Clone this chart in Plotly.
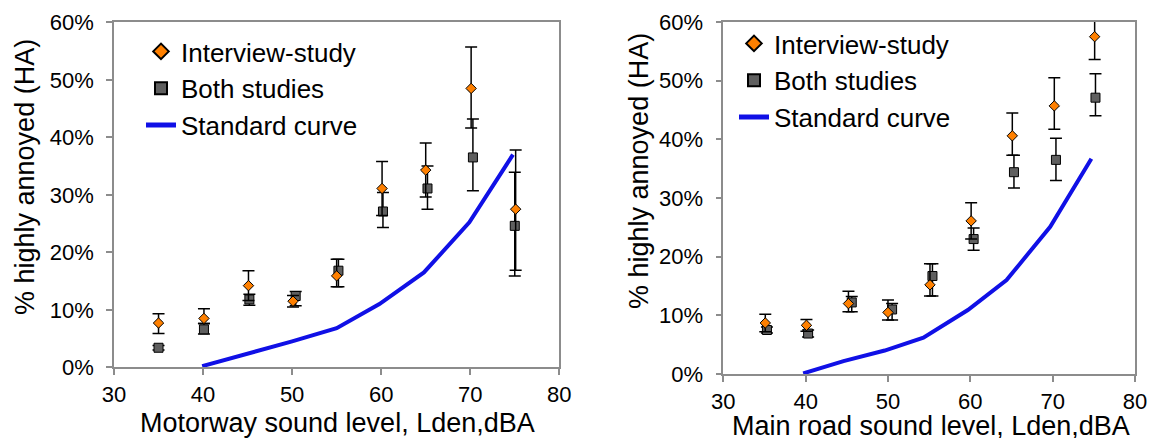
import plotly.graph_objects as go

# ---------------- data ----------------
# Left panel: Motorway
mw_int_x = [35.0, 40.1, 45.1, 50.1, 55.0, 60.1, 65.0, 70.1, 75.1]
mw_int_y = [7.7, 8.5, 14.2, 11.5, 15.9, 31.1, 34.3, 48.5, 27.5]
mw_int_up = [1.6, 1.7, 2.6, 1.0, 2.9, 4.7, 4.7, 7.2, 10.3]
mw_int_dn = [1.8, 0.9, 2.6, 1.0, 1.9, 4.7, 4.7, 6.9, 10.6]

mw_both_x = [35.0, 40.1, 45.2, 50.4, 55.2, 60.2, 65.2, 70.3, 75.0]
mw_both_y = [3.4, 6.6, 11.8, 12.4, 16.8, 27.1, 31.1, 36.5, 24.6]
mw_both_up = [0.4, 1.0, 0.9, 0.8, 2.0, 3.3, 3.9, 6.7, 9.3]
mw_both_dn = [0.4, 0.8, 1.0, 1.7, 2.8, 2.8, 3.6, 5.8, 8.7]

mw_std_x = [39.9, 44.9, 50.0, 55.0, 59.8, 64.8, 69.9, 74.8]
mw_std_y = [0.2, 2.3, 4.5, 6.8, 11.0, 16.5, 25.2, 37.0]

# Right panel: Main road
mr_int_x = [35.1, 40.1, 45.2, 50.0, 55.1, 60.1, 65.1, 70.2, 75.1]
mr_int_y = [8.7, 8.3, 12.0, 10.5, 15.2, 26.1, 40.6, 45.7, 57.5]
mr_int_up = [1.5, 1.0, 2.1, 2.1, 3.6, 3.1, 3.9, 4.8, 4.1]
mr_int_dn = [1.5, 1.0, 1.4, 1.3, 1.9, 3.1, 3.3, 4.0, 3.9]

mr_both_x = [35.3, 40.3, 45.6, 50.5, 55.4, 60.4, 65.3, 70.4, 75.2]
mr_both_y = [7.5, 6.9, 12.2, 11.0, 16.7, 23.0, 34.4, 36.5, 47.1]
mr_both_up = [0.5, 0.6, 1.0, 1.0, 2.1, 1.9, 2.9, 3.7, 4.1]
mr_both_dn = [0.5, 0.6, 1.6, 1.8, 3.4, 1.9, 2.7, 3.5, 3.1]

mr_std_x = [39.7, 44.6, 49.6, 54.3, 59.7, 64.4, 69.7, 74.7]
mr_std_y = [0.1, 2.2, 4.0, 6.2, 10.9, 16.0, 25.1, 36.7]

x_ticks = [30, 40, 50, 60, 70, 80]
y_ticks = [0, 10, 20, 30, 40, 50, 60]
y_tick_text = [f"{v}%" for v in y_ticks]

names = ["Interview-study", "Both studies", "Standard curve"]
x_titles = ["Motorway sound level, Lden,dBA", "Main road sound level, Lden,dBA"]
y_title = "% highly annoyed (HA)"

# ---------------- style ----------------
FONT = "Liberation Sans, Arial, sans-serif"
ORANGE = "#FF8000"
GREY = "#5F5F5F"
BLUE = "#1010E6"
AXC = "#8C8C8C"
W, H = 1154, 438

fig = go.Figure()

panels = [
    dict(xa="x", ya="y", leg="legend",
         ix=mw_int_x, iy=mw_int_y, iu=mw_int_up, idn=mw_int_dn,
         bx=mw_both_x, by=mw_both_y, bu=mw_both_up, bdn=mw_both_dn,
         sx=mw_std_x, sy=mw_std_y),
    dict(xa="x2", ya="y2", leg="legend2",
         ix=mr_int_x, iy=mr_int_y, iu=mr_int_up, idn=mr_int_dn,
         bx=mr_both_x, by=mr_both_y, bu=mr_both_up, bdn=mr_both_dn,
         sx=mr_std_x, sy=mr_std_y),
]

for k, p in enumerate(panels):
    fig.add_trace(go.Scatter(
        x=p["sx"], y=p["sy"], mode="lines", name=names[2],
        line=dict(color=BLUE, width=4), xaxis=p["xa"], yaxis=p["ya"],
        legend=p["leg"], legendgroup=f"s{k}", legendrank=3))
    fig.add_trace(go.Scatter(
        x=p["bx"], y=p["by"], mode="markers", name=names[1],
        marker=dict(symbol="square", size=9, color=GREY,
                    line=dict(color="black", width=1)),
        error_y=dict(type="data", array=p["bu"], arrayminus=p["bdn"],
                     color="black", thickness=1.5, width=6),
        cliponaxis=False, xaxis=p["xa"], yaxis=p["ya"],
        legend=p["leg"], legendgroup=f"b{k}", legendrank=2))
    fig.add_trace(go.Scatter(
        x=p["ix"], y=p["iy"], mode="markers", name=names[0],
        marker=dict(symbol="diamond", size=8, color=ORANGE,
                    line=dict(color="black", width=1)),
        error_y=dict(type="data", array=p["iu"], arrayminus=p["idn"],
                     color="black", thickness=1.5, width=6),
        cliponaxis=False, xaxis=p["xa"], yaxis=p["ya"],
        legend=p["leg"], legendgroup=f"i{k}", legendrank=1))

def xaxis(dom):
    return dict(domain=dom, range=[30, 80], tickvals=x_ticks,
                showline=True, linecolor=AXC, linewidth=1.5, mirror=True,
                ticks="outside", ticklen=6, tickcolor=AXC, tickwidth=1.5,
                showgrid=False, zeroline=False, automargin=False,
                ticklabelstandoff=1,
                tickfont=dict(family=FONT, size=22, color="black"))

def yaxis(dom, anchor):
    return dict(domain=dom, range=[0, 60], tickvals=y_ticks, ticktext=y_tick_text,
                anchor=anchor,
                showline=True, linecolor=AXC, linewidth=1.5, mirror=True,
                ticks="outside", ticklen=6, tickcolor=AXC, tickwidth=1.5,
                showgrid=False, zeroline=False, automargin=False,
                ticklabelstandoff=8,
                tickfont=dict(family=FONT, size=22, color="black"))

L_x = [114 / W, 559.3 / W]
L_y = [1 - 367.3 / H, 1 - 22.3 / H]
R_x = [723.3 / W, 1135 / W]
R_y = [1 - 374 / H, 1 - 22 / H]

legend_common = dict(font=dict(family=FONT, size=26, color="black"),
                     bgcolor="rgba(0,0,0,0)", borderwidth=0,
                     itemsizing="constant", traceorder="grouped",
                     tracegroupgap=0, xanchor="left", yanchor="top")

fig.update_layout(
    width=W, height=H, margin=dict(l=0, r=0, t=0, b=0),
    paper_bgcolor="white", plot_bgcolor="white",
    font=dict(family=FONT, color="black"),
    xaxis=xaxis(L_x) | dict(anchor="y"),
    yaxis=yaxis(L_y, "x"),
    xaxis2=xaxis(R_x) | dict(anchor="y2"),
    yaxis2=yaxis(R_y, "x2"),
    legend=legend_common | dict(x=141 / W, y=1 - 28 / H),
    legend2=legend_common | dict(x=734 / W, y=1 - 20 / H),
    annotations=[
        dict(text=x_titles[0], x=337 / W, y=1 - 423 / H, xref="paper", yref="paper",
             showarrow=False, font=dict(family=FONT, size=27, color="black"),
             xanchor="center", yanchor="middle"),
        dict(text=x_titles[1], x=931 / W, y=1 - 426 / H, xref="paper", yref="paper",
             showarrow=False, font=dict(family=FONT, size=27, color="black"),
             xanchor="center", yanchor="middle"),
        dict(text=y_title, x=25 / W, y=1 - 177 / H, xref="paper", yref="paper",
             showarrow=False, textangle=-90, font=dict(family=FONT, size=27, color="black"),
             xanchor="center", yanchor="middle"),
        dict(text=y_title, x=639 / W, y=1 - 171 / H, xref="paper", yref="paper",
             showarrow=False, textangle=-90, font=dict(family=FONT, size=27, color="black"),
             xanchor="center", yanchor="middle"),
    ],
    showlegend=True,
)

fig.write_html("out.html")
